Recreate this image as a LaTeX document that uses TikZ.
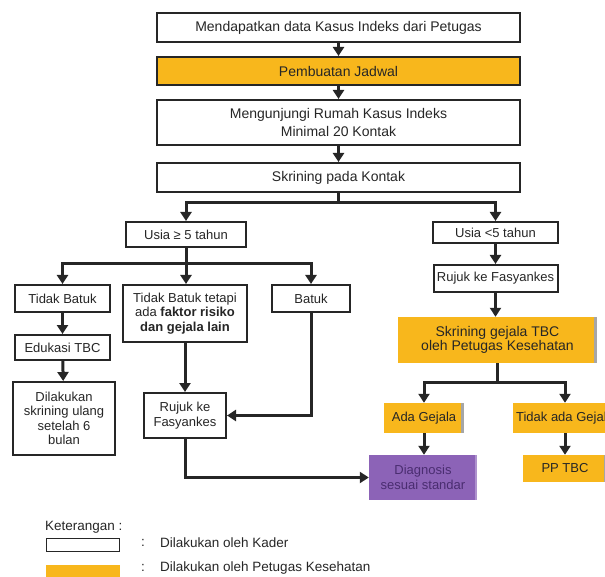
\documentclass[tikz,border=0pt]{standalone}
\usepackage{fontspec}
\setmainfont{Liberation Sans}
\usetikzlibrary{arrows.meta}

\definecolor{kuning}{HTML}{F8B71C}
\definecolor{ungu}{HTML}{8C63B7}
\definecolor{ungutks}{HTML}{4A2D70}

\begin{document}
\begin{tikzpicture}[x=1pt,y=-1pt,
  kader/.style={draw=black!85,line width=2pt,fill=white,align=center,inner sep=1pt,
    text=black!85,font=\fontsize{13}{14.5}\selectfont},
  besar/.style={font=\fontsize{14}{18}\selectfont},
  petugas/.style={fill=kuning,align=center,inner sep=1pt,text=black!85,
    font=\fontsize{13}{14.5}\selectfont,
    path picture={\fill[black!35] ([xshift=-3pt]path picture bounding box.north east)
      rectangle (path picture bounding box.south east);}},
  dokter/.style={fill=ungu,align=center,inner sep=1pt,text=ungutks,
    font=\fontsize{13}{14.5}\selectfont,
    path picture={\fill[ungu!70!white] ([xshift=-2pt]path picture bounding box.north east)
      rectangle (path picture bounding box.south east);}},
  garis/.style={line width=3pt,draw=black!85},
  panah/.style={garis,-{Triangle[length=9pt,width=11pt]}},
  ket/.style={anchor=west,inner sep=0pt,text=black!85,font=\fontsize{13.5}{16}\selectfont}]

\useasboundingbox (0,0) rectangle (605,577);

% alur utama
\node[kader,besar,minimum width=363pt,minimum height=29pt] (data)   at (338.5,27.5)  {Mendapatkan data Kasus Indeks dari Petugas};
\node[kader,besar,fill=kuning,minimum width=363pt,minimum height=28pt] (jadwal) at (338.5,71) {Pembuatan Jadwal};
\node[kader,besar,minimum width=363pt,minimum height=45pt] (rumah)  at (338.5,122.5) {Mengunjungi Rumah Kasus Indeks\\Minimal 20 Kontak};
\node[kader,besar,minimum width=363pt,minimum height=29pt] (skrin)  at (338.5,177.5) {Skrining pada Kontak};

% cabang usia
\node[kader,minimum width=120pt,minimum height=25pt] (usia5)  at (186,234.5) {Usia ≥ 5 tahun};
\node[kader,minimum width=125pt,minimum height=21pt] (usiak5) at (495.5,232.5) {Usia <5 tahun};

% usia >= 5
\node[kader,minimum width=95pt,minimum height=27pt]  (tbatuk)  at (62.5,298.5) {Tidak Batuk};
\node[kader,minimum width=124pt,minimum height=57pt] (faktor)  at (185,313.5) {Tidak Batuk tetapi\\ada \textbf{faktor risiko}\\\textbf{dan gejala lain}};
\node[kader,minimum width=78pt,minimum height=27pt]  (batuk)   at (311,298.5) {Batuk};
\node[kader,minimum width=95pt,minimum height=25pt]  (edukasi) at (62.5,347.5) {Edukasi TBC};
\node[kader,minimum width=102pt,minimum height=73pt] (ulang)   at (64,418.5) {Dilakukan\\skrining ulang\\setelah 6\\bulan};
\node[kader,minimum width=82pt,minimum height=45pt]  (rujukL)  at (185,415.5) {Rujuk ke\\Fasyankes};

% usia < 5
\node[kader,minimum width=124pt,minimum height=27pt] (rujukR) at (495.5,278.5) {Rujuk ke Fasyankes};
\node[petugas,font=\fontsize{14}{14.5}\selectfont,minimum width=199pt,minimum height=46pt] (gejala) at (497.5,340) {Skrining gejala TBC\\oleh Petugas Kesehatan};
\node[petugas,minimum width=80pt,minimum height=30pt]  (ada)   at (424,418) {Ada Gejala};
\node[petugas,minimum width=104pt,minimum height=30pt] (tidak) at (565,418) {Tidak ada Gejala};
\node[dokter,minimum width=108pt,minimum height=45pt]  (diag)  at (423,477.5) {Diagnosis\\sesuai standar};
\node[petugas,minimum width=84pt,minimum height=27pt]  (pp)    at (565,468.5) {PP TBC};

% titik percabangan
\path (skrin.south)  ++(0,10) coordinate (c1);
\path (usia5.south)  ++(0,16) coordinate (c2);
\path (gejala.south) ++(0,19) coordinate (c3);

\path[every edge/.style=panah]
(data)    edge (jadwal)
(jadwal)  edge (rumah)
(rumah)   edge (skrin)
(usiak5)  edge (rujukR)
(rujukR.south) edge (rujukR.south |- gejala.north)
(tbatuk)  edge (edukasi)
(edukasi) edge (ulang)
(faktor)  edge (rujukL)
(tidak)   edge (pp)
(ada.south) edge (ada.south |- diag.north)
;

\draw[garis] (skrin.south) -- (c1);
\draw[panah] (c1) -| (usia5);
\draw[panah] (c1) -| (usiak5);
\draw[garis] (usia5.south) -- (c2);
\draw[panah] (c2) -| (tbatuk);
\draw[panah] (c2) -| (batuk);
\draw[panah] (c2) -- (c2 |- faktor.north);
\draw[panah] (batuk) |- (rujukL);
\draw[panah] (rujukL) |- (diag);
\draw[garis] (gejala.south) -- (c3);
\draw[panah] (c3) -| (ada);
\draw[panah] (c3) -| (tidak);

% keterangan
\node[ket] (judul) at (45,527) {Keterangan :};
\node[kader,line width=1.4pt,minimum width=73pt,minimum height=13pt] (lkader) at (83,545) {};
\node[petugas,path picture={},minimum width=74pt,minimum height=16pt] (lpetugas) at (83,573) {};
\node[ket] (t1a) at (141,543) {:};
\node[ket] (t1b) at (160,543) {Dilakukan oleh Kader};
\node[ket] (t2a) at (141,568) {:};
\node[ket] (t2b) at (160,568) {Dilakukan oleh Petugas Kesehatan};
\end{tikzpicture}
\end{document}
